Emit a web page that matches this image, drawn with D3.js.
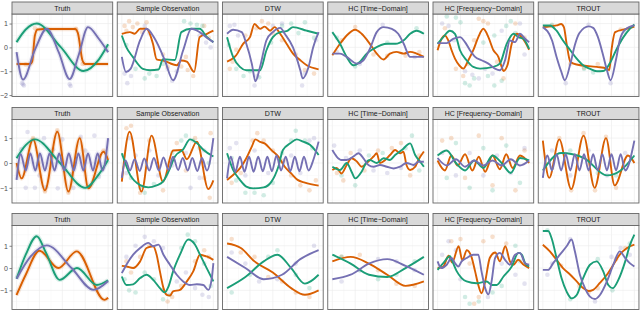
<!DOCTYPE html>
<html>
<head>
<meta charset="utf-8">
<script src="https://cdn.jsdelivr.net/npm/d3@7"></script>
<style>
  body { margin: 0; background: #fff; }
  svg { display: block; font-family: "Liberation Sans", Arial, sans-serif; }
</style>
</head>
<body>
<svg id="chart" width="640" height="311"></svg>
<script>
const methods = ["Truth", "Sample Observation", "DTW", "HC [Time\u2212Domain]", "HC [Frequency\u2212Domain]", "TROUT"];
const yTicks = [[-2, -1, 0, 1], [-1, 0, 1], [-1, 0, 1]];
const yDomains = [[-2.06, 1.40], [-1.61, 1.75], [-1.86, 1.91]];

// fitted curves: knots [x, y] per panel (Truth, Sample Observation, DTW, HC time, HC freq, TROUT)
const orange1 = [
  [[0,-0.7],[0.15,-0.7],[0.17,-0.6],[0.2,0.5],[0.23,0.75],[0.3,0.77],[0.64,0.77],[0.67,0.6],[0.72,-0.55],[0.75,-0.7],[1,-0.7]],
  [[0,0.57],[0.088,0.64],[0.14,0.57],[0.2,0.78],[0.27,0.78],[0.34,0.15],[0.38,-0.5],[0.45,-0.55],[0.6,-0.75],[0.65,-0.55],[0.71,-0.6],[0.79,-1.03],[0.85,0.43],[0.93,0.57],[1,0.7]],
  [[0,-0.6],[0.1,-0.33],[0.175,0.15],[0.25,0.43],[0.3,0.98],[0.36,0.78],[0.41,0.87],[0.47,0.7],[0.52,0.85],[0.58,0.57],[0.65,0.15],[0.72,-0.26],[0.8,-0.54],[0.87,-0.75],[1,-0.92]],
  [[0,-0.33],[0.084,0.15],[0.157,0.5],[0.25,0.74],[0.32,0.57],[0.41,0.15],[0.485,-0.26],[0.56,-0.51],[0.63,-0.26],[0.7,-0.19],[0.78,-0.26],[0.85,-0.19],[0.92,-0.26],[1,-0.4]],
  [[0,-0.12],[0.044,0.36],[0.08,0.5],[0.117,0.29],[0.153,-0.12],[0.19,-0.47],[0.237,-0.75],[0.28,-0.89],[0.336,-0.54],[0.39,-0.12],[0.445,0.43],[0.5,0.78],[0.555,0.43],[0.61,-0.12],[0.664,-0.4],[0.7,-0.82],[0.72,-0.99],[0.763,-0.75],[0.81,0.15],[0.865,0.57],[0.92,0.43],[0.956,0.22],[1,-0.1]],
  [[0,0.85],[0.15,0.92],[0.2,0.98],[0.23,0.85],[0.26,0.15],[0.3,-0.6],[0.37,-0.72],[0.59,-0.82],[0.7,-0.89],[0.726,-0.96],[0.75,-0.12],[0.79,0.64],[0.916,0.78],[1,0.87]]
];
const green1 = [
  [[0,0.22],[0.1,0.75],[0.22,1.0],[0.48,0.02],[0.73,-0.99],[0.9,-0.5],[1,0.13]],
  [[0,0.5],[0.05,0.0],[0.12,-0.4],[0.23,-0.9],[0.31,-0.96],[0.4,-0.93],[0.45,-0.5],[0.58,-0.53],[0.65,0.64],[0.76,0.78],[0.85,0.78],[0.93,0.43],[1,0.22]],
  [[0,0.43],[0.066,-0.4],[0.14,-0.82],[0.21,-0.96],[0.36,-0.96],[0.43,-0.12],[0.5,0.43],[0.58,0.64],[0.65,0.68],[0.72,0.85],[0.87,0.7],[1,0.57]],
  [[0,0.64],[0.084,0.15],[0.157,-0.4],[0.23,-0.75],[0.3,-0.61],[0.376,-0.26],[0.45,-0.06],[0.6,0.15],[0.69,0.15],[0.78,0.3],[0.85,0.57],[0.92,0.7],[1,0.57]],
  [[0,0.15],[0.062,0.43],[0.135,0.7],[0.19,0.57],[0.245,-0.12],[0.317,-0.54],[0.39,-0.82],[0.464,-0.89],[0.61,-0.82],[0.68,-0.68],[0.755,0.15],[0.83,0.57],[0.883,0.43],[0.938,0.36],[1,-0.06]],
  [[0,0.92],[0.077,0.92],[0.15,0.7],[0.22,0.29],[0.3,-0.12],[0.37,-0.47],[0.44,-0.75],[0.51,-0.89],[0.59,-1.0],[0.66,-0.99],[0.73,-0.68],[0.8,-0.12],[0.88,0.43],[0.95,0.78],[1,0.96]]
];
const purple1 = [
  [[0,-0.2],[0.07,-1.35],[0.2,-0.1],[0.33,0.78],[0.46,-0.2],[0.58,-1.33],[0.68,-0.3],[0.78,0.85],[0.9,0.35],[1,-0.2]],
  [[0,-0.4],[0.045,-1.03],[0.095,-0.9],[0.2,0.3],[0.27,0.78],[0.36,0.36],[0.47,-0.54],[0.56,-1.38],[0.67,-0.12],[0.76,0.78],[0.85,0.64],[0.945,0.36],[1,0.22]],
  [[0,0.57],[0.066,0.74],[0.16,0.64],[0.21,0.15],[0.27,-0.68],[0.31,-1.42],[0.36,-0.82],[0.43,0.3],[0.5,0.64],[0.58,0.82],[0.63,0.57],[0.72,0.0],[0.8,-0.96],[0.825,-1.3],[0.89,-0.82],[0.94,0.0],[1,0.64]],
  [[0,-0.26],[0.084,-0.26],[0.157,-0.4],[0.27,-0.68],[0.34,-0.54],[0.41,-0.06],[0.485,0.64],[0.56,0.85],[0.65,0.78],[0.72,0.57],[0.78,0.15],[0.85,-0.4],[1,-0.4]],
  [[0,0.18],[0.1,0.18],[0.17,0.36],[0.245,0.43],[0.3,0.22],[0.354,-0.12],[0.41,-0.4],[0.48,-0.54],[0.555,-0.68],[0.627,-0.89],[0.68,-0.96],[0.737,-0.54],[0.79,0.29],[0.847,0.22],[0.9,0.57],[0.956,0.36],[1,0.22]],
  [[0,0.85],[0.1,0.3],[0.15,-0.4],[0.2,-1.0],[0.24,-1.38],[0.3,-0.7],[0.35,0.1],[0.4,0.6],[0.5,0.88],[0.55,0.82],[0.6,0.45],[0.65,-0.2],[0.7,-0.95],[0.74,-1.38],[0.8,-0.5],[0.84,0.3],[0.9,0.75],[1,0.92]]
];

const orange2 = [
  [[0,0.0],[0.055,-0.62],[0.18,0.95],[0.31,-1.1],[0.445,1.26],[0.566,-1.15],[0.69,1.0],[0.785,-1.02],[0.95,0.45],[1,0.12]],
  [[0,-0.75],[0.085,1.26],[0.215,-1.15],[0.325,1.1],[0.45,-0.75],[0.56,0.5],[0.65,0.52],[0.71,0.15],[0.82,0.86],[0.945,-1.05],[1,-0.7]],
  [[0,-0.68],[0.066,-0.48],[0.14,-0.22],[0.21,0.19],[0.27,0.66],[0.31,0.95],[0.36,0.85],[0.41,0.79],[0.485,0.52],[0.56,0.26],[0.63,-0.15],[0.7,-0.42],[0.77,-0.68],[0.85,-0.79],[1,-0.91]],
  [[0,-0.28],[0.047,-0.2],[0.1,-0.42],[0.157,-0.08],[0.21,0.19],[0.27,0.05],[0.32,-0.15],[0.376,0.0],[0.45,0.26],[0.485,0.39],[0.52,0.0],[0.577,0.12],[0.63,0.32],[0.686,0.52],[0.74,0.39],[0.777,0.45],[0.81,-0.08],[0.85,-0.28],[0.905,-0.15],[0.94,0.12],[1,0.46]],
  [[0,0.1],[0.08,-0.3],[0.15,0.3],[0.22,-0.1],[0.3,0.35],[0.38,-0.3],[0.45,0.25],[0.52,-0.35],[0.6,0.3],[0.68,-0.25],[0.75,0.35],[0.82,-0.2],[0.9,0.3],[1,0.0]],
  [[0,0.9],[0.07,-0.6],[0.18,0.95],[0.31,-1.05],[0.445,1.1],[0.566,-1.0],[0.69,1.0],[0.785,-0.9],[0.93,0.3],[1,0.0]]
];
const green2 = [
  [[0,0.19],[0.1,0.72],[0.2,0.95],[0.475,0.0],[0.75,-1.0],[0.9,-0.45],[1,0.12]],
  [[0,0.39],[0.09,-0.48],[0.2,-0.89],[0.29,-0.98],[0.38,-0.9],[0.45,-0.75],[0.51,-0.35],[0.58,0.26],[0.67,0.55],[0.745,0.95],[0.82,0.8],[0.89,0.53],[1,0.26]],
  [[0,0.39],[0.066,-0.28],[0.14,-0.68],[0.21,-0.95],[0.285,-1.02],[0.4,-0.98],[0.485,-0.75],[0.56,-0.15],[0.61,0.52],[0.69,0.79],[0.76,0.95],[0.83,0.86],[0.905,0.73],[1,0.32]],
  [[0,-0.15],[0.084,-0.28],[0.157,0.0],[0.21,-0.35],[0.25,-0.62],[0.32,-0.35],[0.376,0.05],[0.41,0.12],[0.485,0.0],[0.56,0.19],[0.63,0.12],[0.686,0.32],[0.76,0.52],[0.85,0.79],[0.905,0.32],[0.96,0.05],[1,-0.15]],
  [[0,0.3],[0.1,0.5],[0.2,0.0],[0.3,-0.3],[0.4,0.1],[0.5,-0.2],[0.6,0.3],[0.7,0.0],[0.8,-0.4],[0.9,0.2],[1,0.1]],
  [[0,-0.3],[0.2,0.4],[0.45,0.2],[0.7,-0.5],[0.85,-0.3],[1,0.3]]
];
const purple2 = [
  [[0,-0.68],[0.045,0.35],[0.1,-0.3],[0.15,0.38],[0.205,-0.3],[0.255,0.38],[0.31,-0.3],[0.36,0.38],[0.415,-0.3],[0.465,0.38],[0.52,-0.3],[0.57,0.38],[0.625,-0.3],[0.675,0.38],[0.73,-0.3],[0.78,0.38],[0.835,-0.3],[0.885,0.38],[0.94,-0.3],[1,1.0]],
  [[0,-0.6],[0.04,0.1],[0.09,-0.3],[0.14,0.15],[0.195,-0.32],[0.245,0.18],[0.3,-0.3],[0.35,0.2],[0.405,-0.3],[0.455,0.22],[0.51,-0.28],[0.56,0.25],[0.615,-0.28],[0.665,0.2],[0.72,-0.3],[0.77,0.2],[0.825,-0.32],[0.875,0.2],[0.93,-0.3],[1,1.0]],
  [[0,-0.62],[0.04,0.25],[0.09,-0.35],[0.14,0.25],[0.19,-0.35],[0.24,0.25],[0.29,-0.35],[0.34,0.25],[0.39,-0.33],[0.44,0.25],[0.49,-0.33],[0.54,0.3],[0.59,-0.3],[0.64,0.25],[0.69,-0.33],[0.74,0.25],[0.79,-0.33],[0.84,0.25],[0.89,-0.3],[0.94,0.1],[1,0.86]],
  [[0,0.52],[0.047,0.26],[0.1,0.12],[0.157,0.12],[0.23,0.26],[0.285,0.39],[0.34,0.19],[0.394,-0.08],[0.45,-0.15],[0.52,-0.08],[0.595,-0.15],[0.67,-0.22],[0.74,-0.15],[0.81,0.0],[0.887,-0.08],[0.94,0.05],[1,0.05]],
  [[0,0.2],[0.1,-0.1],[0.2,0.15],[0.3,-0.15],[0.4,0.1],[0.5,-0.1],[0.6,0.1],[0.7,-0.1],[0.8,0.15],[0.9,-0.1],[1,0.1]],
  [[0,-0.6],[0.05,0.3],[0.1,-0.3],[0.15,0.35],[0.2,-0.3],[0.25,0.35],[0.3,-0.3],[0.35,0.35],[0.4,-0.3],[0.45,0.35],[0.5,-0.3],[0.55,0.35],[0.6,-0.3],[0.65,0.35],[0.7,-0.3],[0.75,0.35],[0.8,-0.3],[0.85,0.35],[0.9,-0.3],[1,0.9]]
];

const orange3 = [
  [[0,-1.21],[0.1,-0.3],[0.25,0.78],[0.456,0.0],[0.657,0.75],[0.96,-1.43],[1,-1.33]],
  [[0,0.1],[0.05,0.07],[0.124,0.0],[0.2,0.3],[0.27,0.9],[0.343,0.98],[0.38,0.6],[0.416,-0.15],[0.455,-0.9],[0.49,-1.2],[0.525,-1.23],[0.56,-1.05],[0.635,-0.98],[0.71,-0.6],[0.78,-0.15],[0.854,0.6],[0.927,0.52],[1,0.37]],
  [[0,1.1],[0.15,0.9],[0.3,0.3],[0.5,-0.2],[0.7,-0.9],[0.85,-1.2],[1,-1.0]],
  [[0,0.3],[0.2,0.5],[0.4,0.2],[0.6,-0.3],[0.8,-0.8],[1,-0.6]],
  [[0,0.0],[0.06,0.05],[0.12,0.55],[0.16,0.25],[0.23,0.98],[0.27,0.35],[0.32,0.8],[0.37,0.5],[0.41,-0.15],[0.445,-0.76],[0.48,-1.13],[0.52,-0.6],[0.57,0.45],[0.63,0.7],[0.68,0.3],[0.74,0.98],[0.79,0.3],[0.83,0.15],[0.88,0.37],[0.94,0.15],[1,0.0]],
  [[0,1.05],[0.077,0.75],[0.15,0.37],[0.22,0.0],[0.3,-0.3],[0.37,-0.6],[0.44,-0.9],[0.5,-1.03],[0.55,-0.98],[0.62,-0.68],[0.7,-0.3],[0.77,0.15],[0.84,0.6],[0.92,0.9],[1,1.05]]
];
const green3 = [
  [[0,-0.48],[0.1,0.6],[0.22,1.43],[0.32,0.7],[0.47,-0.53],[0.66,0.0],[0.876,-0.76],[1,-0.55]],
  [[0,-0.38],[0.05,-0.76],[0.124,-0.73],[0.2,-0.45],[0.27,-0.3],[0.343,-0.53],[0.416,-0.9],[0.47,-1.09],[0.51,-0.83],[0.56,-0.15],[0.635,0.6],[0.725,1.28],[0.8,1.05],[0.854,0.6],[0.927,0.0],[1,-0.6]],
  [[0,-0.9],[0.2,-0.4],[0.4,0.3],[0.55,0.6],[0.7,0.0],[0.85,-0.7],[1,-0.3]],
  [[0,0.6],[0.2,0.2],[0.4,-0.3],[0.6,-0.4],[0.8,0.0],[1,0.5]],
  [[0,-0.08],[0.062,0.22],[0.135,0.53],[0.17,0.22],[0.21,-0.15],[0.263,-0.45],[0.317,-0.6],[0.427,-0.68],[0.536,-0.6],[0.59,-0.76],[0.645,-0.76],[0.72,-0.38],[0.81,0.07],[0.883,0.68],[0.92,0.6],[0.956,0.22],[1,0.07]],
  [[0,1.66],[0.058,1.66],[0.095,1.35],[0.15,0.45],[0.204,-0.45],[0.26,-1.06],[0.314,-1.36],[0.37,-1.21],[0.44,-0.45],[0.515,0.15],[0.588,0.3],[0.66,-0.15],[0.715,-0.76],[0.763,-0.9],[0.825,-0.53],[0.9,0.3],[0.953,1.05],[1,1.5]]
];
const purple3 = [
  [[0,-0.48],[0.15,0.5],[0.33,1.02],[0.6,0.0],[0.84,-0.98],[1,-0.58]],
  [[0,-0.23],[0.05,0.15],[0.124,0.6],[0.2,0.9],[0.29,1.13],[0.343,0.98],[0.4,1.05],[0.455,0.6],[0.525,0.15],[0.6,-0.3],[0.67,-0.6],[0.745,-0.76],[0.82,-0.73],[0.89,-0.76],[0.945,-0.98],[0.98,-0.53],[1,0.22]],
  [[0,0.5],[0.2,0.0],[0.4,-0.5],[0.6,-0.3],[0.8,0.4],[1,0.8]],
  [[0,-0.5],[0.2,-0.3],[0.4,0.2],[0.6,0.4],[0.8,0.1],[1,-0.3]],
  [[0,0.3],[0.04,0.0],[0.1,0.15],[0.153,0.45],[0.19,0.22],[0.226,0.07],[0.263,0.3],[0.317,0.45],[0.39,0.6],[0.445,0.6],[0.48,-0.15],[0.52,-0.9],[0.555,-1.18],[0.59,-0.6],[0.628,0.45],[0.68,0.68],[0.737,0.37],[0.79,0.15],[0.846,0.6],[0.9,0.68],[0.956,0.22],[1,0.15]],
  [[0,-0.08],[0.058,-0.08],[0.113,0.22],[0.186,0.6],[0.26,0.98],[0.314,1.28],[0.35,0.75],[0.405,-0.3],[0.46,-0.9],[0.515,-1.28],[0.57,-1.39],[0.624,-1.21],[0.7,-0.6],[0.77,0.15],[0.84,0.75],[0.9,0.45],[0.95,0.22],[1,0.07]]
];

// observed points [x, y] per panel
const ptsOrange1 = [
  [[0.1,-0.72],[0.2,0.8],[0.65,0.78],[0.72,-0.7]],
  [[0.03,0.9],[0.08,1.1],[0.12,0.85],[0.17,1.0],[0.22,0.65],[0.27,1.05],[0.05,0.7],[0.45,-0.3],[0.5,-0.8],[0.65,-0.8],[0.72,-0.95],[0.78,-1.2],[0.7,-0.4],[0.9,0.9],[0.95,0.4]],
  [[0.03,-0.9],[0.06,-0.6],[0.1,-0.1],[0.2,0.5],[0.32,0.8],[0.38,1.1],[0.45,1.0],[0.5,0.6],[0.6,0.3],[0.75,-0.3],[0.85,-0.95],[0.95,-1.1]],
  [[0.1,0.3],[0.25,0.85],[0.45,-0.3],[0.6,-0.35],[0.8,-0.35],[0.95,-0.2]],
  [[0.08,0.8],[0.2,-0.9],[0.28,-1.2],[0.33,-0.7],[0.45,1.2],[0.5,1.1],[0.55,1.0],[0.65,-0.6],[0.72,-1.3],[0.85,1.0],[0.95,0.4],[0.4,0.3]],
  [[0.1,0.9],[0.3,-0.7],[0.45,-0.85],[0.6,-0.7],[0.85,0.75]]
];
const ptsGreen1 = [
  [],
  [[0.68,1.1],[0.75,1.0],[0.82,0.95],[0.88,0.9],[0.15,-0.9],[0.25,-1.3],[0.3,-1.1],[0.38,-1.2],[0.45,-0.7],[0.05,0.1]],
  [[0.02,0.1],[0.1,-0.9],[0.18,-1.2],[0.25,-1.0],[0.35,-1.25],[0.48,0.2],[0.6,0.9],[0.7,1.0],[0.78,0.6],[0.85,1.05],[0.95,0.4]],
  [[0.05,0.4],[0.25,-0.8],[0.6,0.2],[0.92,0.8]],
  [[0.1,1.3],[0.2,1.25],[0.25,1.05],[0.3,-1.5],[0.35,-1.6],[0.4,-1.3],[0.55,-1.2],[0.62,-1.6],[0.7,-1.4],[0.75,0.9],[0.8,1.1],[0.85,0.6],[0.5,0.2],[0.62,0.5]],
  [[0.1,0.95],[0.45,-0.9],[0.55,-1.05],[0.9,0.65]]
];
const ptsPurple1 = [
  [[0.06,-1.5],[0.07,-1.55],[0.08,-1.6],[0.58,-1.55],[0.59,-1.62]],
  [[0.03,-1.1],[0.06,-1.5],[0.1,-1.2],[0.55,-1.4],[0.5,-0.9],[0.6,-1.0],[0.85,0.5],[0.92,0.2],[0.97,0.0],[0.25,0.9],[0.3,0.6]],
  [[0.03,0.9],[0.08,0.95],[0.12,0.5],[0.3,-1.6],[0.33,-1.2],[0.5,0.9],[0.6,1.0],[0.82,-1.6],[0.85,-1.1],[0.97,0.3]],
  [[0.05,-0.2],[0.3,-0.7],[0.55,0.95],[0.9,-0.4]],
  [[0.05,1.0],[0.12,0.9],[0.3,-1.0],[0.38,-1.15],[0.45,-1.3],[0.52,-0.9],[0.6,-1.1],[0.7,0.7],[0.9,1.0],[0.95,-0.3],[0.18,0.3]],
  [[0.25,-1.5],[0.74,-1.5],[0.5,0.95]]
];
const ptsOrange2 = [
  [[0.18,1.0],[0.445,1.32],[0.31,-1.15],[0.566,-1.2],[0.95,0.5]],
  [[0.05,1.4],[0.1,1.5],[0.2,-1.2],[0.3,0.9],[0.45,-1.1],[0.6,0.8],[0.7,-0.3],[0.8,1.0],[0.9,-0.6],[0.96,-1.4],[0.97,1.2]],
  [[0.05,-0.8],[0.15,-0.4],[0.28,0.9],[0.33,1.2],[0.4,0.9],[0.5,0.5],[0.62,0.1],[0.7,-0.5],[0.8,-0.9],[0.9,-1.1],[0.97,-0.7]],
  [[0.05,-0.4],[0.2,0.4],[0.35,-0.3],[0.5,0.5],[0.65,0.6],[0.75,0.8],[0.85,-0.5],[0.95,0.3],[0.12,-0.7]],
  [[0.05,0.9],[0.15,1.0],[0.3,-0.6],[0.45,1.1],[0.6,-0.9],[0.7,1.0],[0.85,-1.1],[0.95,0.5]],
  [[0.18,1.0],[0.31,-1.1],[0.445,1.2],[0.57,-1.1],[0.69,1.05],[0.8,-1.0]]
];
const ptsGreen2 = [
  [],
  [[0.02,0.3],[0.1,-0.6],[0.2,-1.0],[0.25,-1.2],[0.35,-0.85],[0.55,0.4],[0.65,0.9],[0.7,1.1],[0.78,0.9],[0.85,0.6],[0.95,0.0]],
  [[0.05,0.2],[0.1,-0.7],[0.2,-1.2],[0.3,-1.2],[0.4,-1.3],[0.5,-0.8],[0.6,0.4],[0.7,0.9],[0.75,1.3],[0.85,0.9],[0.93,0.6]],
  [[0.1,-0.5],[0.25,-0.9],[0.4,0.3],[0.55,0.4],[0.8,0.6],[0.87,1.1],[0.95,-0.3]],
  [[0.1,-0.6],[0.2,0.8],[0.35,-1.0],[0.5,0.6],[0.6,-1.1],[0.75,0.7],[0.9,-0.8]],
  [[0.1,-0.2],[0.3,0.5],[0.6,-0.4],[0.8,-0.5]]
];
const ptsPurple2 = [
  [[0.1,-1.0],[0.2,-1.0],[0.32,-0.98],[0.45,-1.02],[0.62,-1.0],[0.12,1.25],[0.3,1.0],[0.5,0.95],[0.7,1.05],[0.85,1.1],[0.05,0.55],[0.25,-0.5],[0.6,-0.45],[0.9,-0.55],[0.4,0.55],[0.75,0.5]],
  [[0.05,-0.4],[0.15,0.3],[0.3,0.5],[0.4,-0.5],[0.55,-0.1],[0.7,0.4],[0.85,-0.6],[0.9,0.5],[0.08,1.0],[0.75,-1.0]],
  [[0.03,0.6],[0.1,0.8],[0.2,-0.5],[0.3,0.5],[0.45,-0.4],[0.55,0.2],[0.7,0.3],[0.8,-0.4],[0.9,0.9],[0.95,1.0]],
  [[0.02,0.7],[0.15,0.2],[0.3,0.5],[0.45,-0.3],[0.6,-0.4],[0.75,-0.2],[0.9,-0.1]],
  [[0.05,0.4],[0.2,-0.5],[0.35,0.4],[0.5,-0.5],[0.65,0.3],[0.8,-0.4],[0.95,0.6]],
  [[0.1,0.5],[0.3,-0.5],[0.5,0.5],[0.7,-0.5],[0.9,0.4]]
];
const ptsOrange3 = [
  [],
  [[0.05,0.3],[0.1,-0.2],[0.2,0.5],[0.3,1.0],[0.45,-1.0],[0.5,-1.5],[0.55,-1.3],[0.65,-0.8],[0.8,0.3],[0.9,0.8],[0.95,0.5]],
  [[0.05,1.3],[0.15,0.7],[0.3,0.5],[0.45,-0.4],[0.6,-0.6],[0.75,-1.1],[0.9,-1.3]],
  [[0.1,0.5],[0.3,0.6],[0.5,-0.1],[0.7,-0.7],[0.9,-0.8]],
  [[0.15,1.2],[0.25,1.3],[0.35,0.2],[0.5,1.2],[0.6,1.4],[0.75,1.1],[0.45,-1.3],[0.4,-1.6]],
  [[0.2,0.1],[0.4,-0.8],[0.5,-1.1],[0.6,-0.9],[0.8,0.4],[0.9,0.9]]
];
const ptsGreen3 = [
  [],
  [[0.03,-0.5],[0.08,-1.0],[0.15,-1.1],[0.25,-0.2],[0.35,-0.5],[0.45,-1.4],[0.52,-1.2],[0.65,0.9],[0.72,1.5],[0.8,1.2],[0.9,0.2],[0.97,-0.8]],
  [[0.05,-1.1],[0.25,-0.3],[0.45,0.5],[0.55,0.8],[0.75,-0.3],[0.9,-0.9]],
  [[0.1,0.5],[0.3,-0.1],[0.5,-0.5],[0.7,-0.3],[0.9,0.3]],
  [[0.3,-1.3],[0.35,-1.6],[0.45,-1.5],[0.6,-1.1],[0.7,-0.8],[0.85,1.0],[0.9,0.3]],
  [[0.05,1.7],[0.3,-1.4],[0.6,0.4],[0.76,-1.0],[0.95,1.1]]
];
const ptsPurple3 = [
  [],
  [[0.05,0.5],[0.15,1.0],[0.25,1.4],[0.35,1.2],[0.45,0.9],[0.6,-0.6],[0.7,-0.2],[0.8,-0.9],[0.88,-1.2],[0.95,-1.3]],
  [[0.05,0.7],[0.2,0.2],[0.35,-0.6],[0.55,-0.5],[0.75,0.2],[0.95,1.0]],
  [[0.1,-0.6],[0.3,-0.1],[0.5,0.4],[0.7,0.3],[0.9,-0.1]],
  [[0.05,0.6],[0.12,1.2],[0.2,0.8],[0.25,-0.5],[0.55,-1.3],[0.7,0.2],[0.85,-0.3],[0.95,-0.7]],
  [[0.05,-0.3],[0.1,0.2],[0.3,1.3],[0.57,-1.5],[0.75,0.5],[0.85,0.9],[0.95,0.6]]
];

const series = [
  {orange: orange1, green: green1, purple: purple1},
  {orange: orange2, green: green2, purple: purple2},
  {orange: orange3, green: green3, purple: purple3}
];
const points = [
  {orange: ptsOrange1, green: ptsGreen1, purple: ptsPurple1},
  {orange: ptsOrange2, green: ptsGreen2, purple: ptsPurple2},
  {orange: ptsOrange3, green: ptsGreen3, purple: ptsPurple3}
];
const colors = {orange: "#D95F02", green: "#1B9E77", purple: "#7570B3"};
const drawOrder = ["orange", "green", "purple"];

// layout
const svg = d3.select("#chart");
const left = 12, panelW = 100.7, gapX = 4.55, stripH = 12;
const rowTop = [2, 107.5, 213.5];
const rowBottom = [96.5, 203, 309.5];

rowTop.forEach((top, r) => {
  const pTop = top + stripH, pBot = rowBottom[r];
  const y = d3.scaleLinear().domain(yDomains[r]).range([pBot, pTop]);

  // y axis on the left
  const ax = svg.append("g").attr("transform", `translate(${left},0)`)
    .call(d3.axisLeft(y).tickValues(yTicks[r]).tickSize(2.5).tickPadding(1.5)
      .tickFormat(d => d < 0 ? "\u2212" + Math.abs(d) : d));
  ax.select(".domain").remove();
  ax.selectAll("line").attr("stroke", "#333").attr("stroke-width", 0.6);
  ax.selectAll("text").attr("fill", "#4d4d4d").attr("font-size", 7);

  methods.forEach((m, c) => {
    const x0 = left + c * (panelW + gapX);
    const x = d3.scaleLinear().domain([-0.05, 1.05]).range([x0, x0 + panelW]);
    const g = svg.append("g");
    const clipId = `clip-${r}-${c}`;
    g.append("clipPath").attr("id", clipId).append("rect")
      .attr("x", x0).attr("y", pTop).attr("width", panelW).attr("height", pBot - pTop);

    // grid
    const xs = d3.range(0, 1.0001, 0.125);
    g.selectAll(".gx").data(xs).join("line")
      .attr("x1", d => x(d)).attr("x2", d => x(d)).attr("y1", pTop).attr("y2", pBot)
      .attr("stroke", (d, i) => i % 2 ? "#f3f3f3" : "#ebebeb")
      .attr("stroke-width", (d, i) => i % 2 ? 0.4 : 0.6);
    const ys = d3.range(yTicks[r][0] - 0.5, yTicks[r][yTicks[r].length - 1] + 1.01, 0.5)
      .filter(v => v > yDomains[r][0] && v < yDomains[r][1]);
    g.selectAll(".gy").data(ys).join("line")
      .attr("x1", x0).attr("x2", x0 + panelW).attr("y1", d => y(d)).attr("y2", d => y(d))
      .attr("stroke", d => Number.isInteger(d) ? "#ebebeb" : "#f3f3f3")
      .attr("stroke-width", d => Number.isInteger(d) ? 0.6 : 0.4);

    const line = d3.line().x(d => x(d[0])).y(d => y(d[1])).curve(d3.curveMonotoneX);
    const lg = g.append("g").attr("clip-path", `url(#${clipId})`);

    drawOrder.forEach(k => {
      lg.selectAll(null).data(points[r][k][c]).join("circle")
        .attr("cx", d => x(d[0])).attr("cy", d => y(d[1])).attr("r", 2.3)
        .attr("fill", colors[k]).attr("fill-opacity", 0.2);
    });
    if (c === 0) {
      drawOrder.forEach(k => {
        lg.append("path").attr("d", line(series[r][k][c]))
          .attr("fill", "none").attr("stroke", colors[k])
          .attr("stroke-width", 4.5).attr("stroke-opacity", 0.15);
      });
    }
    drawOrder.forEach(k => {
      lg.append("path").attr("d", line(series[r][k][c]))
        .attr("fill", "none").attr("stroke", colors[k])
        .attr("stroke-width", 1.9).attr("stroke-linejoin", "round");
    });

    // panel border
    g.append("rect").attr("x", x0).attr("y", pTop).attr("width", panelW).attr("height", pBot - pTop)
      .attr("fill", "none").attr("stroke", "#666").attr("stroke-width", 0.9);
    // strip
    g.append("rect").attr("x", x0).attr("y", top).attr("width", panelW).attr("height", stripH)
      .attr("fill", "#d9d9d9").attr("stroke", "#666").attr("stroke-width", 0.9);
    g.append("text").attr("x", x0 + panelW / 2).attr("y", top + stripH / 2 + 2.5)
      .attr("text-anchor", "middle").attr("font-size", 7).attr("fill", "#1a1a1a").text(m);
  });
});
</script>
</body>
</html>
